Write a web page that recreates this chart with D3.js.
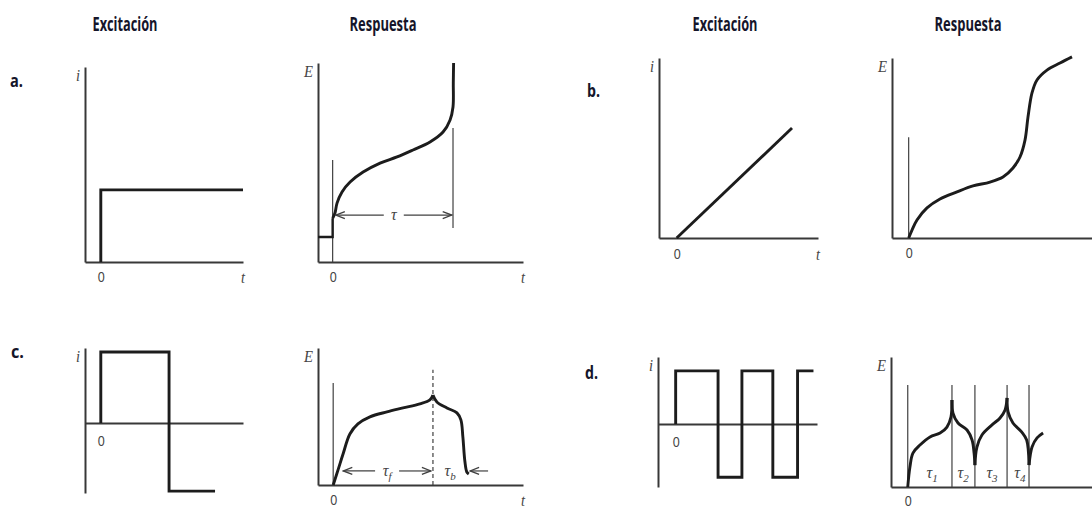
<!DOCTYPE html>
<html>
<head>
<meta charset="utf-8">
<script src="https://cdn.jsdelivr.net/npm/d3@7"></script>
<style>
  html, body { margin: 0; padding: 0; background: #fff; }
  svg { display: block; }
</style>
</head>
<body>
<svg id="chart" width="1092" height="511"></svg>
<script>
// ---------------- DATA ----------------
const headers = ["Excitación", "Respuesta", "Excitación", "Respuesta"];
const panelLetters = ["a.", "b.", "c.", "d."];
const zeroTick = [0];

// a. constant-current step
const aExcitation = [[0, 0], [0, 3.7], [9, 3.7]];
const aResponsePre = [[-1, 1.26], [0, 1.26], [0, 2.2]];
const aResponse = [[0, 2.2], [0.16, 2.46], [0.3, 2.96], [0.64, 3.52], [1.19, 4.02], [2.08, 4.52],
  [3.24, 4.97], [4.4, 5.28], [5.49, 5.63], [6.65, 6.03], [7.54, 6.53], [8.02, 7.14],
  [8.22, 7.79], [8.24, 9.0], [8.26, 10.0]];
const aStartMarker = [[0, 0], [0, 5.13]];
const aEndMarker = [[8.22, 1.71], [8.22, 6.73]];
const aTau = { from: 0.15, to: 8.2, level: 2.36, label: "τ", sub: "" };

// b. linear current ramp
const bExcitation = [[0, 0], [6.53, 6.11]];
const bResponse = [[0, 0], [0.2, 0.44], [0.5, 1.0], [1.1, 1.67], [1.88, 2.17], [2.9, 2.56],
  [3.86, 2.89], [4.88, 3.11], [5.66, 3.39], [6.26, 3.89], [6.68, 4.5], [6.98, 5.44],
  [7.16, 6.72], [7.4, 8.06], [7.7, 8.78], [8.3, 9.33], [9.08, 9.72], [9.8, 10.06]];
const bStartMarker = [[0, 0], [0, 5.6]];

// c. current reversal
const cExcitation = [[0, 0], [0, 4.06], [4.32, -3.89], [7.23, -3.89]];
const cResponseForward = [[0, 0], [0.32, 0.88], [0.65, 1.81], [1.1, 2.98], [1.63, 3.57], [2.42, 3.98],
  [3.54, 4.27], [4.6, 4.5], [5.71, 4.74], [6.37, 4.97], [6.57, 5.26]];
const cResponseBackward = [[6.57, 5.26], [6.83, 4.85], [7.49, 4.5], [8.15, 4.21], [8.41, 3.8],
  [8.54, 2.81], [8.67, 1.4], [8.8, 0.76], [8.93, 0.64]];
const cStartMarker = [[0, 0], [0, 5.96]];
const cReversal = [[6.57, 0], [6.57, 6.73]];
const cTauF = { from: 0.6, to: 6.5, level: 0.82, label: "τ", sub: "f" };
const cTauB = { from: 10.2, to: 8.95, level: 0.82, label: "τ", sub: "b", labelAt: 7.7 };

// d. cyclic chronopotentiometry
const dExcitation = [[0, 0], [0, 3.8], [2.4, -3.8], [3.75, 3.8], [5.5, -3.8], [6.9, 3.8], [7.8, 3.8]];
const dResponseSegments = [
  [[0, 0], [0.13, 1.23], [0.31, 2.09], [0.73, 2.58], [1.33, 3.08], [1.93, 3.32], [2.34, 3.69], [2.58, 4.31], [2.64, 5.35]],
  [[2.64, 5.35], [2.7, 4.55], [3.0, 3.94], [3.54, 3.51], [3.84, 2.89], [3.96, 2.09], [4.01, 1.35]],
  [[4.01, 1.35], [4.13, 2.46], [4.43, 3.2], [5.03, 3.82], [5.51, 4.25], [5.81, 4.74], [5.93, 5.48]],
  [[5.93, 5.48], [5.99, 4.62], [6.28, 3.94], [6.81, 3.38], [7.1, 2.89], [7.24, 1.35]],
  [[7.24, 1.35], [7.42, 2.46], [7.72, 3.02], [8.08, 3.32]]
];
const dTransitions = [0, 2.64, 4.01, 5.93, 7.24];
const dTransitionTop = 6.28;
const dTauLabels = [["1", 1.45], ["2", 3.3], ["3", 5.03], ["4", 6.7]];

// ---------------- LAYOUT ----------------
const layout = {
  aExc:  { xr: [85, 243],  xd: [-1, 9],    yr: [262, 67],  yd: [0, 10],       ylab: "i", tlab: true,  pad: 9 },
  aResp: { xr: [318, 523], xd: [-1, 13],   yr: [262, 63],  yd: [0, 10],       ylab: "E", tlab: true,  pad: 9 },
  bExc:  { xr: [659, 818], xd: [-1, 8],    yr: [238, 58],  yd: [0, 10],       ylab: "i", tlab: true,  pad: 10 },
  bResp: { xr: [892, 1092],xd: [-1, 11],   yr: [238, 58],  yd: [0, 10],       ylab: "E", tlab: false, pad: 9 },
  cExc:  { xr: [85, 243],  xd: [-1, 9],    yr: [493, 348], yd: [-4, 4.29],    ylab: "i", tlab: false, pad: 12 },
  cResp: { xr: [318, 523], xd: [-1, 12.5], yr: [485, 348], yd: [0, 8],        ylab: "E", tlab: true,  pad: 9 },
  dExc:  { xr: [658, 817], xd: [-1, 8],    yr: [487, 357], yd: [-4.5, 4.79],  ylab: "i", tlab: false, pad: 12 },
  dResp: { xr: [891, 1092],xd: [-1, 11],   yr: [487, 357], yd: [0, 8],        ylab: "E", tlab: false, pad: 8 }
};
const headerX = [125, 383, 725, 968];
const letterPos = [[10, 87], [587, 97], [11, 358], [585, 379]];

const INK = "#1c1c1c", AXIS = "#383838", THIN = "#404040", LABEL = "#444";

const svg = d3.select("#chart");

// arrow marker (open chevron pointing along the line direction)
const defs = svg.append("defs");
defs.append("marker").attr("id", "arr").attr("viewBox", "-10 -5 11 10")
  .attr("refX", 0).attr("refY", 0).attr("markerWidth", 11).attr("markerHeight", 10)
  .attr("markerUnits", "userSpaceOnUse").attr("orient", "auto")
  .append("path").attr("d", "M-9,-3.5L0,0L-9,3.5").attr("fill", "none")
  .attr("stroke", THIN).attr("stroke-width", 1.3);

// headers
svg.selectAll("text.header").data(headers).join("text")
  .attr("class", "header")
  .attr("x", (d, i) => headerX[i]).attr("y", 31)
  .attr("text-anchor", "middle")
  .attr("font-family", "'Open Sans', 'Liberation Sans', sans-serif")
  .attr("font-weight", "bold").attr("font-size", 20)
  .attr("textLength", (d) => d === "Respuesta" ? 67 : 65)
  .attr("lengthAdjust", "spacingAndGlyphs")
  .attr("fill", "#15152a").text(d => d);

// panel letters
svg.selectAll("text.letter").data(panelLetters).join("text")
  .attr("class", "letter")
  .attr("x", (d, i) => letterPos[i][0]).attr("y", (d, i) => letterPos[i][1])
  .attr("font-family", "'Open Sans', 'Liberation Sans', sans-serif")
  .attr("font-weight", "bold").attr("font-size", 18)
  .attr("textLength", 13).attr("lengthAdjust", "spacingAndGlyphs")
  .attr("fill", "#15152a").text(d => d);

// panel builder
function panel(cfg) {
  const x = d3.scaleLinear().domain(cfg.xd).range(cfg.xr);
  const y = d3.scaleLinear().domain(cfg.yd).range(cfg.yr);
  const g = svg.append("g");

  // t axis at value 0
  const xa = g.append("g").attr("transform", `translate(0,${y(0)})`)
    .call(d3.axisBottom(x).tickValues(zeroTick).tickSize(0).tickSizeOuter(0).tickPadding(cfg.pad).tickFormat(d3.format("d")));
  xa.select(".domain").attr("stroke", AXIS).attr("stroke-width", 2);
  xa.selectAll(".tick text").attr("font-family", "'Liberation Sans', sans-serif")
    .attr("font-size", 15).attr("fill", LABEL)
    .attr("textLength", 7).attr("lengthAdjust", "spacingAndGlyphs");

  // vertical axis
  const ya = g.append("g").attr("transform", `translate(${x(cfg.xd[0])},0)`)
    .call(d3.axisLeft(y).tickValues([]).tickSizeOuter(0));
  ya.select(".domain").attr("stroke", AXIS).attr("stroke-width", 2);

  // axis name
  g.append("text").attr("x", x(cfg.xd[0]) - 5).attr("y", cfg.yr[1] + 14)
    .attr("text-anchor", "end").attr("font-family", "'Liberation Serif', serif")
    .attr("font-style", "italic").attr("font-size", 16).attr("fill", LABEL)
    .attr("textLength", cfg.ylab === "E" ? 9 : 4).attr("lengthAdjust", "spacingAndGlyphs")
    .text(cfg.ylab);
  if (cfg.tlab) {
    g.append("text").attr("x", cfg.xr[1]).attr("y", y(0) + cfg.pad + 12)
      .attr("text-anchor", "middle").attr("font-family", "'Liberation Serif', serif")
      .attr("font-style", "italic").attr("font-size", 16).attr("fill", LABEL)
      .attr("textLength", 4).attr("lengthAdjust", "spacingAndGlyphs").text("t");
  }
  return { g, x, y };
}

function drawLine(p, data, opts) {
  const gen = d3.line().x(d => p.x(d[0])).y(d => p.y(d[1])).curve(opts.curve || d3.curveLinear);
  return p.g.append("path").attr("d", gen(data)).attr("fill", "none")
    .attr("stroke", opts.color || INK).attr("stroke-width", opts.width || 2.9)
    .attr("stroke-linejoin", "miter").attr("stroke-linecap", "butt")
    .attr("stroke-dasharray", opts.dash || null);
}
const smooth = d3.curveCatmullRom.alpha(0.5);

function tauLabel(p, tx, level, sub) {
  const t = p.g.append("text").attr("x", p.x(tx)).attr("y", p.y(level) + 5)
    .attr("text-anchor", "middle").attr("font-family", "'Liberation Serif', serif")
    .attr("font-style", "italic").attr("font-size", 16).attr("fill", LABEL);
  t.append("tspan").text("τ");
  if (sub) t.append("tspan").attr("font-size", 11).attr("dy", 4).text(sub);
  return t;
}
function tauArrow(p, spec, gapPx) {
  const mid = (p.x(spec.from) + p.x(spec.to)) / 2;
  const yy = p.y(spec.level);
  const a = p.x(spec.from), b = p.x(spec.to);
  p.g.append("line").attr("x1", mid - gapPx).attr("x2", a + 1).attr("y1", yy).attr("y2", yy)
    .attr("stroke", THIN).attr("stroke-width", 1.2).attr("marker-end", "url(#arr)");
  p.g.append("line").attr("x1", mid + gapPx).attr("x2", b - 1).attr("y1", yy).attr("y2", yy)
    .attr("stroke", THIN).attr("stroke-width", 1.2).attr("marker-end", "url(#arr)");
  tauLabel(p, p.x.invert(mid), spec.level, spec.sub);
}

// ---- a. Excitation
const pAE = panel(layout.aExc);
drawLine(pAE, aExcitation, { curve: d3.curveStepAfter });

// ---- a. Response
const pAR = panel(layout.aResp);
drawLine(pAR, aStartMarker, { width: 1.2, color: THIN });
drawLine(pAR, aEndMarker, { width: 1.2, color: THIN });
drawLine(pAR, aResponsePre, { width: 2.4 });
drawLine(pAR, aResponse, { curve: smooth });
tauArrow(pAR, aTau, 10);

// ---- b. Excitation
const pBE = panel(layout.bExc);
drawLine(pBE, bExcitation, {});

// ---- b. Response
const pBR = panel(layout.bResp);
drawLine(pBR, bStartMarker, { width: 1.2, color: THIN });
drawLine(pBR, bResponse, { curve: smooth });

// ---- c. Excitation
const pCE = panel(layout.cExc);
drawLine(pCE, cExcitation, { curve: d3.curveStepAfter });

// ---- c. Response
const pCR = panel(layout.cResp);
drawLine(pCR, cStartMarker, { width: 1.2, color: THIN });
drawLine(pCR, cReversal, { width: 1.2, color: THIN, dash: "4,3" });
drawLine(pCR, cResponseForward, { curve: smooth });
drawLine(pCR, cResponseBackward, { curve: smooth });
tauArrow(pCR, cTauF, 12);
{
  const yy = pCR.y(cTauB.level);
  pCR.g.append("line").attr("x1", pCR.x(cTauB.from)).attr("x2", pCR.x(cTauB.to) + 1)
    .attr("y1", yy).attr("y2", yy).attr("stroke", THIN).attr("stroke-width", 1.2)
    .attr("marker-end", "url(#arr)");
  tauLabel(pCR, cTauB.labelAt, cTauB.level, cTauB.sub);
}

// ---- d. Excitation
const pDE = panel(layout.dExc);
drawLine(pDE, dExcitation, { curve: d3.curveStepAfter });

// ---- d. Response
const pDR = panel(layout.dResp);
dTransitions.forEach(t => drawLine(pDR, [[t, 0], [t, dTransitionTop]], { width: 1.2, color: THIN }));
dResponseSegments.forEach(seg => drawLine(pDR, seg, { curve: smooth }));
dTauLabels.forEach(([s, t]) => tauLabel(pDR, t, 0.86, s));
</script>
</body>
</html>
